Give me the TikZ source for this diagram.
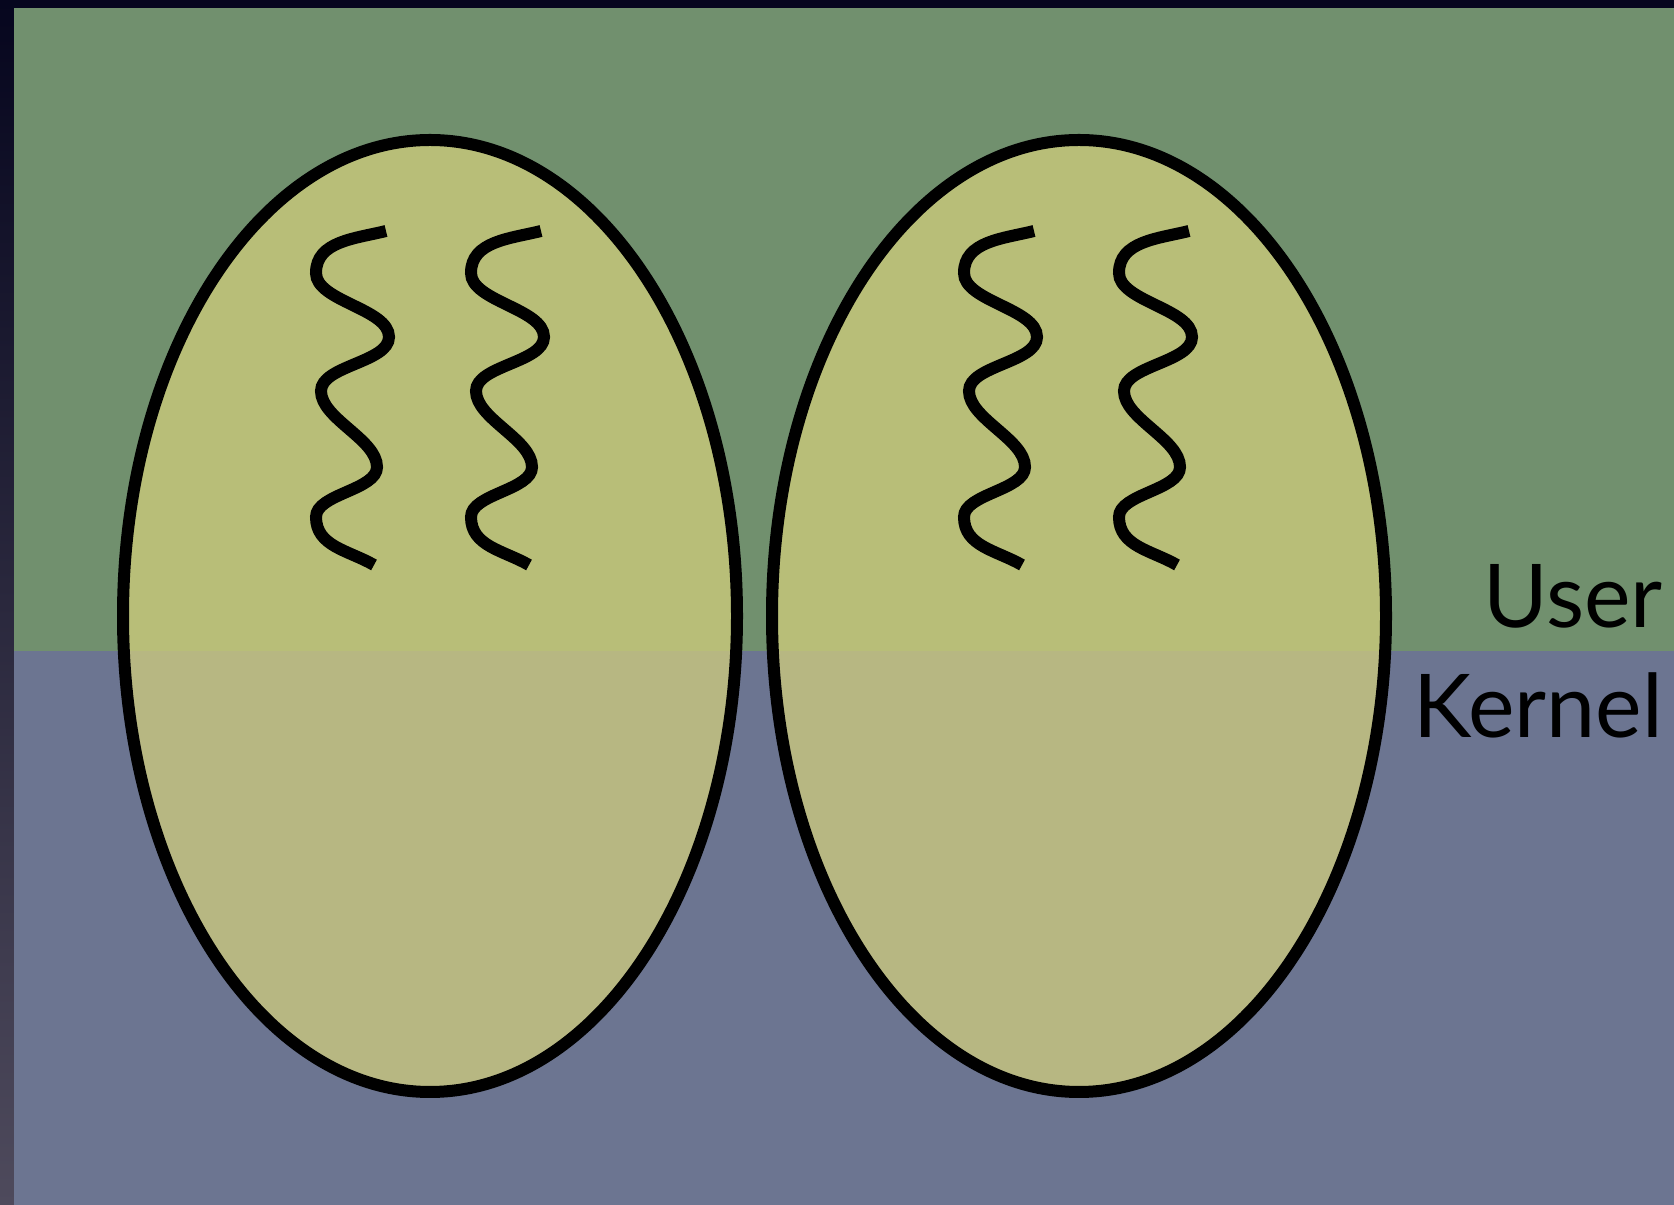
\documentclass[tikz,border=0pt]{standalone}
\usepackage{fontspec}
\setmainfont{Lato}
\definecolor{usergreen}{RGB}{113,144,110}
\definecolor{kernelblue}{RGB}{108,117,145}
\definecolor{eggup}{RGB}{184,190,120}
\definecolor{egglow}{RGB}{183,183,130}
\definecolor{frametop}{RGB}{6,6,30}
\definecolor{framebot}{RGB}{78,74,92}
\tikzset{
  eggline/.style={line width=12pt, draw=black},
  squigline/.style={line width=12pt, draw=black},
  lbl/.style={font=\fontsize{88}{96}\selectfont, inner sep=0pt, anchor=base east},
  squig/.pic={
    \draw[squigline] (0,0) to[out=194,in=90] (-70,-42)
      to[out=-90,in=90,looseness=0.75] (3,-106)
      to[out=-90,in=90,looseness=0.75] (-65,-160)
      to[out=-90,in=90,looseness=0.75] (-9,-236)
      to[out=-90,in=90,looseness=0.75] (-70,-286)
      to[out=-90,in=150] (-12,-334);
  }
}
\begin{document}
\begin{tikzpicture}[x=1pt,y=1pt]
\useasboundingbox (0,0) rectangle (1674,1205);
\shade[top color=frametop, bottom color=framebot] (0,0) rectangle (1674,1205);
\fill[usergreen] (14,554) rectangle (1674,1197);
\fill[kernelblue] (14,0) rectangle (1674,554);
% process ellipses
\foreach \cx in {430,1079}{
  \begin{scope}
    \clip (\cx,589) ellipse [x radius=307, y radius=476];
    \fill[eggup] (\cx-310,554) rectangle (\cx+310,1070);
    \fill[egglow] (\cx-310,100) rectangle (\cx+310,554);
  \end{scope}
  \draw[eggline] (\cx,589) ellipse [x radius=307, y radius=476];
}
% threads
\pic at (386,974) {squig};
\pic at (541,974) {squig};
\pic at (1034,974) {squig};
\pic at (1189,974) {squig};
\node[lbl] (user) at (1663,577) {User};
\node[lbl] (kernel) at (1663,467) {Kernel};
\end{tikzpicture}
\end{document}
